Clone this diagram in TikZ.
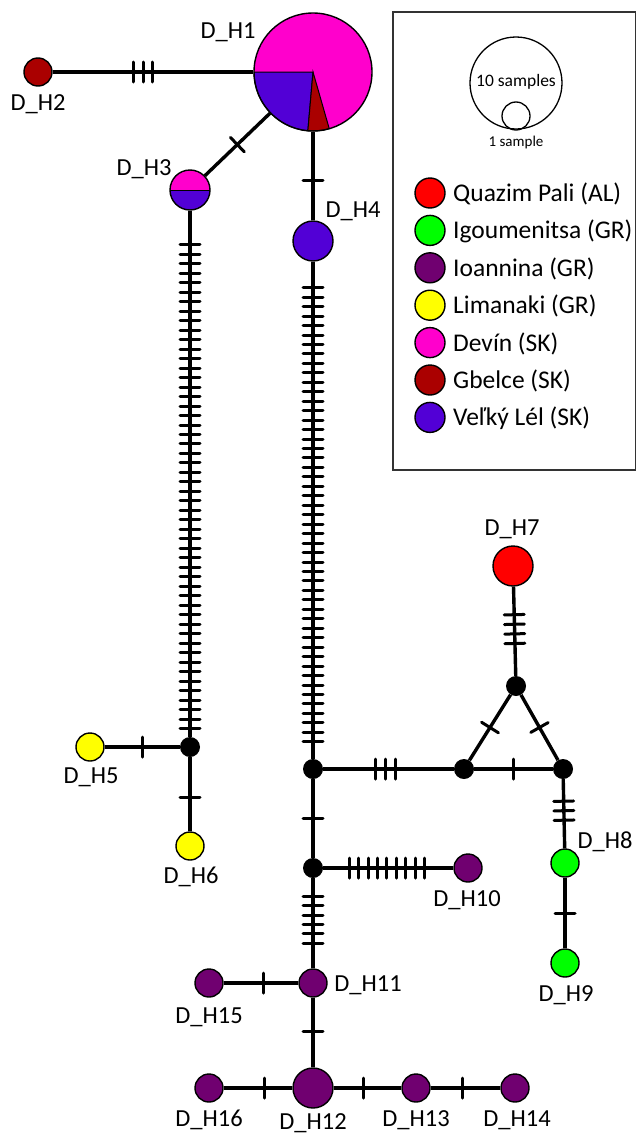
\documentclass[tikz,border=0pt]{standalone}
\usepackage{fontspec}
\setmainfont{Carlito}
\usepackage{tikz}
\usetikzlibrary{decorations.markings}

\definecolor{qpali}{HTML}{FF0000}
\definecolor{igou}{HTML}{00FF00}
\definecolor{ioan}{HTML}{700070}
\definecolor{liman}{HTML}{FFFF00}
\definecolor{devin}{HTML}{FF00CC}
\definecolor{gbelce}{HTML}{AA0000}
\definecolor{velky}{HTML}{5200D6}

\begin{document}
\begin{tikzpicture}[x=1pt, y=-1pt,
                    hap/.style={circle, draw=black, line width=1.4pt, inner sep=0pt, minimum size=28pt},
                    bighap/.style={hap, minimum size=40pt},
                    mv/.style={circle, fill=black, inner sep=0pt, minimum size=20pt},
                    edge/.style={line width=3.4pt},
                    tickline/.style={line width=3pt, line cap=round},
                    mut/.style={postaction={decorate, decoration={markings,
                        mark=at position #1 with {\draw[tickline] (0,-10pt) -- (0,10pt);}}}},
                    mut/.default=0.5,
                    muts/.style n args={3}{postaction={decorate, decoration={markings,
                        mark=between positions #1 and #2 step #3 with {\draw[tickline] (0,-10pt) -- (0,10pt);}}}},
                    lbl/.style={font=\fontsize{24.5}{27}\selectfont, anchor=base, inner sep=0pt},
                    legdot/.style={circle, draw=black, line width=1.4pt, inner sep=0pt, minimum size=30pt},
                    legtxt/.style={font=\fontsize{25.5}{28}\selectfont, anchor=base west, inner sep=0pt},
                   ]

\useasboundingbox (0,0) rectangle (637,1135);

% D_H1 pie
\coordinate (c1) at (313,72);
\fill[devin] (c1) circle[radius=59pt];
\filldraw[velky, draw=black, line width=1pt] (c1) -- ++(180:59pt) arc[start angle=180, end angle=265, radius=59pt] -- cycle;
\filldraw[gbelce, draw=black, line width=1pt] (c1) -- ++(265:59pt) arc[start angle=265, end angle=286, radius=59pt] -- cycle;
\node[hap, minimum size=118pt] (h1) at (c1) {};

% D_H3 half/half
\coordinate (c3) at (190,190);
\fill[devin] (c3) ++(0:20pt) arc[start angle=0, end angle=180, radius=20pt] -- cycle;
\fill[velky] (c3) ++(180:20pt) arc[start angle=180, end angle=360, radius=20pt] -- cycle;
\draw[line width=1pt] (c3) +(180:20pt) -- +(0:20pt);
\node[bighap] (h3) at (c3) {};

% haplotypes
\node[hap, fill=gbelce] (h2) at (38,72) {};
\node[bighap, fill=velky] (h4) at (313,241) {};
\node[hap, fill=liman] (h5) at (90,747) {};
\node[hap, fill=liman] (h6) at (190,846) {};
\node[bighap, fill=qpali] (h7) at (513,566) {};
\node[hap, fill=igou] (h8) at (565,863) {};
\node[hap, fill=igou] (h9) at (565,963) {};
\node[hap, fill=ioan] (h10) at (468,868) {};
\node[hap, fill=ioan] (h11) at (313,983) {};
\node[bighap, fill=ioan] (h12) at (313,1088) {};
\node[hap, fill=ioan] (h13) at (416,1088) {};
\node[hap, fill=ioan] (h14) at (515,1088) {};
\node[hap, fill=ioan] (h15) at (209,983) {};
\node[hap, fill=ioan] (h16) at (209,1088) {};

% median vectors
\node[mv] (jl) at (190,747) {};
\node[mv] (jr1) at (313,769) {};
\node[mv] (jr2) at (313,868) {};
\node[mv] (ta) at (464,769) {};
\node[mv] (tb) at (563,769) {};
\node[mv] (tc) at (516,686) {};

% edges
\draw[edge, muts={81pt}{101pt}{9.5pt}] (h2) -- (h1);
\draw[edge, mut] (h3) -- (h1);
\draw[edge, mut=0.55] (h1) -- (h4);
\draw[edge, muts={34pt}{520pt}{9.49pt}] (h3) -- (jl);
\draw[edge, muts={26pt}{482pt}{9.46pt}] (h4) -- (jr1);
\draw[edge, mut] (h5) -- (jl);
\draw[edge, mut=0.54] (jl) -- (h6);
\draw[edge, mut] (jr1) -- (jr2);
\draw[edge, muts={52pt}{74pt}{10pt}] (jr1) -- (ta);
\draw[edge, mut] (ta) -- (tb);
\draw[edge, mut] (ta) -- (tc);
\draw[edge, mut] (tc) -- (tb);
\draw[edge, muts={28pt}{59pt}{9.6pt}] (h7) -- (tc);
\draw[edge, muts={22pt}{42pt}{9.5pt}] (tb) -- (h8);
\draw[edge, mut=0.51] (h8) -- (h9);
\draw[edge, muts={26pt}{102pt}{9.4pt}] (jr2) -- (h10);
\draw[edge, muts={18pt}{66pt}{9.4pt}] (jr2) -- (h11);
\draw[edge, mut=0.54] (h15) -- (h11);
\draw[edge, mut=0.49] (h11) -- (h12);
\draw[edge, mut=0.59] (h16) -- (h12);
\draw[edge, mut=0.44] (h12) -- (h13);
\draw[edge, mut=0.46] (h13) -- (h14);

% labels
\node[lbl] (l1) at (228,38) {D\_H1};
\node[lbl] (l2) at (38,110) {D\_H2};
\node[lbl] (l3) at (144,175) {D\_H3};
\node[lbl] (l4) at (353,217) {D\_H4};
\node[lbl] (l5) at (91,783) {D\_H5};
\node[lbl] (l6) at (191,883) {D\_H6};
\node[lbl] (l7) at (512,535) {D\_H7};
\node[lbl] (l8) at (605,848) {D\_H8};
\node[lbl] (l9) at (566,1001) {D\_H9};
\node[lbl] (l10) at (467,906) {D\_H10};
\node[lbl] (l11) at (368,991) {D\_H11};
\node[lbl] (l12) at (313,1129) {D\_H12};
\node[lbl] (l13) at (416,1126) {D\_H13};
\node[lbl] (l14) at (517,1126) {D\_H14};
\node[lbl] (l15) at (209,1023) {D\_H15};
\node[lbl] (l16) at (209,1126) {D\_H16};

% legend
\draw[line width=1.5pt, black!80] (393,12) rectangle (635.5,470);
\node[circle, draw=black, line width=1.3pt, minimum size=92pt, inner sep=0pt] (s10) at (516,83) {};
\node[circle, draw=black, line width=1.3pt, minimum size=28pt, inner sep=0pt] (s1) at (516,116) {};
\node[anchor=base, inner sep=0pt, font=\fontsize{17.5}{19}\selectfont] (t10) at (516,86) {10 samples};
\node[anchor=base, inner sep=0pt, font=\fontsize{15}{17}\selectfont] (t1) at (516,146) {1 sample};
\foreach \col/\txt [count=\i from 0] in {qpali/Quazim Pali (AL), igou/Igoumenitsa (GR),
    ioan/Ioannina (GR), liman/Limanaki (GR), devin/Devín (SK), gbelce/Gbelce (SK), velky/Veľký Lél (SK)} {
  \node[legdot, fill=\col] (ld\i) at (430,193+37.4*\i) {};
  \node[legtxt] (lt\i) at (453,201.5+37.4*\i) {\txt};
}

\end{tikzpicture}
\end{document}
